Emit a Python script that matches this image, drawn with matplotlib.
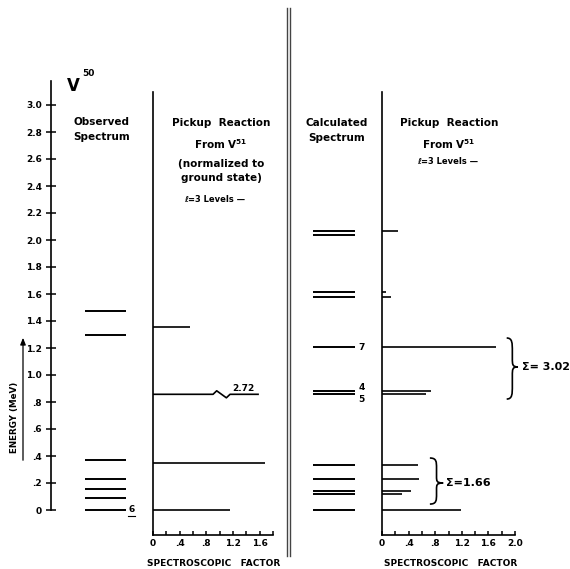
import matplotlib
matplotlib.use("Agg")
import matplotlib.pyplot as plt
from matplotlib.path import Path
from matplotlib.patches import PathPatch
from matplotlib.lines import Line2D

plt.rcParams["font.family"] = "DejaVu Sans"
plt.rcParams["font.weight"] = "bold"
plt.rcParams["mathtext.fontset"] = "dejavusans"

# V50 observed levels (MeV)
obs_levels = [0.0, 0.087, 0.158, 0.232, 0.373, 1.30, 1.474]
# pickup from V51, l=3 spectroscopic factors (normalized)
pick_energy = [0.0, 0.346, 0.857, 1.353]
pick_sf = [1.16, 1.68, 2.72, 0.55]
# calculated spectrum and calculated pickup strengths
calc_levels = [0.0, 0.118, 0.138, 0.23, 0.333, 0.859, 0.884, 1.207,
               1.578, 1.613, 2.035, 2.067]
calc_sf = [1.19, 0.305, 0.43, 0.56, 0.54, 0.66, 0.73, 1.71,
           0.13, 0.06, 0.0, 0.245]
calc_marks = {1.207: "7", 0.884: "4", 0.859: "5"}

energy_ticks = [0.0, 0.2, 0.4, 0.6, 0.8, 1.0, 1.2, 1.4, 1.6, 1.8, 2.0,
                2.2, 2.4, 2.6, 2.8, 3.0]

W, H = 570, 569
fig = plt.figure(figsize=(W / 100, H / 100), dpi=100)

# vertical mapping shared by all panels: y_px = 510 - 135 * E
E_BOT = -25 / 135
E_TOP = 435 / 135


def fx(px):
    return px / W


def fy(py):
    return 1 - py / H


def panel(x0, x1, xmax):
    ax = fig.add_axes([fx(x0), fy(535), fx(x1) - fx(x0), fy(75) - fy(535)])
    ax.set_xlim(0, xmax)
    ax.set_ylim(E_BOT, E_TOP)
    ax.patch.set_alpha(0)
    for s in ["top", "right", "left", "bottom"]:
        ax.spines[s].set_visible(False)
    ax.set_xticks([])
    ax.set_yticks([])
    return ax


def energy_label(v):
    if v == 0:
        return "0"
    s = "%.1f" % v
    return s[1:] if v < 1 else s


# ---- panel 1: observed spectrum
ax1 = panel(51, 150, 1.0)
ax1.spines["left"].set_visible(True)
ax1.spines["left"].set_linewidth(1.2)
ax1.spines["left"].set_bounds(0, 3.18)
ax1.set_yticks(energy_ticks)
ax1.set_yticklabels([energy_label(v) for v in energy_ticks], fontsize=6.5)
ax1.tick_params(axis="y", direction="inout", length=7, width=1.1, pad=3)
ax1.hlines(obs_levels, 0.34, 0.76, color="black", lw=1.4)
ax1.text(0.815, 0.0, "6", fontsize=6.5, ha="center", va="center")
ax1.plot([0.78, 0.85], [-0.045, -0.045], color="black", lw=0.8)


def sf_panel(x0, x1, xmax, axis_end, labels):
    ax = panel(x0, x1, xmax)
    ax.spines["left"].set_visible(True)
    ax.spines["bottom"].set_visible(True)
    ax.spines["left"].set_bounds(E_BOT, 3.10)
    ax.spines["bottom"].set_bounds(0, axis_end)
    ax.spines["left"].set_linewidth(1.2)
    ax.spines["bottom"].set_linewidth(1.2)
    major = [i * 0.4 for i in range(len(labels))]
    minor = [i * 0.2 for i in range(int(round(axis_end / 0.2)) + 1) if i % 2]
    ax.set_xticks(major)
    ax.set_xticklabels(labels, fontsize=6.5)
    ax.set_xticks(minor, minor=True)
    ax.tick_params(axis="x", which="both", direction="in", length=3, width=1.1, pad=3)
    return ax


# ---- panel 2: pickup reaction (observed)
ax2 = sf_panel(153, 283, 130 / 66.7, 1.8, ["0", ".4", ".8", "1.2", "1.6"])
for e, v in zip(pick_energy, pick_sf):
    if v > 1.8:
        # off-scale bar drawn with a break
        ax2.plot([0, 0.90, 0.955, 1.10, 1.155, 1.575],
                 [e, e, e + 0.026, e - 0.026, e, e], color="black", lw=1.2)
        ax2.text(1.35, e + 0.012, "%.2f" % v, fontsize=6.5, ha="center", va="bottom")
    else:
        ax2.hlines(e, 0, v, color="black", lw=1.2)

# ---- panel 3: calculated spectrum
ax3 = panel(300, 380, 1.0)
ax3.hlines(calc_levels, 0.1625, 0.6875, color="black", lw=1.4)
for e, lab in calc_marks.items():
    dy = {"7": 0.0, "4": 0.027, "5": -0.037}[lab]
    ax3.text(0.77, e + dy, lab, fontsize=6.5, ha="center", va="center")

# ---- panel 4: calculated pickup
ax4 = sf_panel(382, 522, 140 / 66.5, 2.0, ["0", ".4", ".8", "1.2", "1.6", "2.0"])
for e, v in zip(calc_levels, calc_sf):
    if v > 0:
        ax4.hlines(e, 0, v, color="black", lw=1.2)


def brace(ax, x0, w, yt, yb, ym):
    h = yt - yb
    xm = x0 + 0.5 * w
    verts = [(x0, yt),
             (xm, yt), (xm, yt - 0.08 * h), (xm, yt - 0.22 * h),
             (xm, ym + 0.14 * h),
             (xm, ym + 0.04 * h), (xm, ym), (x0 + w, ym),
             (xm, ym), (xm, ym - 0.04 * h), (xm, ym - 0.14 * h),
             (xm, yb + 0.22 * h),
             (xm, yb + 0.08 * h), (xm, yb), (x0, yb)]
    codes = [Path.MOVETO] + [Path.CURVE4] * 3 + [Path.LINETO] + [Path.CURVE4] * 6 \
        + [Path.LINETO] + [Path.CURVE4] * 3
    ax.add_patch(PathPatch(Path(verts, codes), fill=False, lw=1.2,
                           edgecolor="black", clip_on=False))


brace(ax4, 1.875, 0.17, 1.274, 0.822, 1.06)
ax4.text(2.10, 1.06, "Σ= 3.02", fontsize=8, ha="left", va="center", clip_on=False)
brace(ax4, 0.72, 0.20, 0.385, 0.044, 0.20)
ax4.text(0.96, 0.20, "Σ=1.66", fontsize=8, ha="left", va="center")

# ---- headings
fig.text(fx(67), fy(86), "V", fontsize=12, ha="left", va="center")
fig.text(fx(82), fy(74), "50", fontsize=6.5, ha="left", va="center")

fig.text(fx(102), fy(122), "Observed", fontsize=7.5, ha="center", va="center")
fig.text(fx(102), fy(137), "Spectrum", fontsize=7.5, ha="center", va="center")

fig.text(fx(221), fy(123), "Pickup  Reaction", fontsize=7.5, ha="center", va="center")
fig.text(fx(221), fy(144), r"From V$^{\mathbf{51}}$", fontsize=7.5, ha="center", va="center")
fig.text(fx(221), fy(164), "(normalized to", fontsize=7.5, ha="center", va="center")
fig.text(fx(221), fy(178), "ground state)", fontsize=7.5, ha="center", va="center")
fig.text(fx(215), fy(200), "ℓ=3 Levels —", fontsize=6, ha="center", va="center")

fig.text(fx(337), fy(123), "Calculated", fontsize=7.5, ha="center", va="center")
fig.text(fx(337), fy(138), "Spectrum", fontsize=7.5, ha="center", va="center")

fig.text(fx(449), fy(123), "Pickup  Reaction", fontsize=7.5, ha="center", va="center")
fig.text(fx(449), fy(144), r"From V$^{\mathbf{51}}$", fontsize=7.5, ha="center", va="center")
fig.text(fx(448), fy(162), "ℓ=3 Levels —", fontsize=6, ha="center", va="center")

fig.text(fx(214), fy(563), "SPECTROSCOPIC   FACTOR", fontsize=6.5, ha="center", va="center")
fig.text(fx(451), fy(563), "SPECTROSCOPIC   FACTOR", fontsize=6.5, ha="center", va="center")

# energy axis label with arrow
fig.text(fx(15), fy(417), "ENERGY (MeV)", fontsize=6.3, rotation=90, ha="center", va="center")
fig.add_artist(matplotlib.patches.FancyArrowPatch(
    (fx(23), fy(463)), (fx(23), fy(335)), transform=fig.transFigure,
    arrowstyle="-|>,head_length=4,head_width=1.6", lw=0.9, color="black"))

# double divider line
for xp in (287, 290):
    fig.add_artist(Line2D([fx(xp), fx(xp)], [fy(8), fy(556)], color="#444444", lw=1.0))

fig.savefig("out.png", dpi=100)
